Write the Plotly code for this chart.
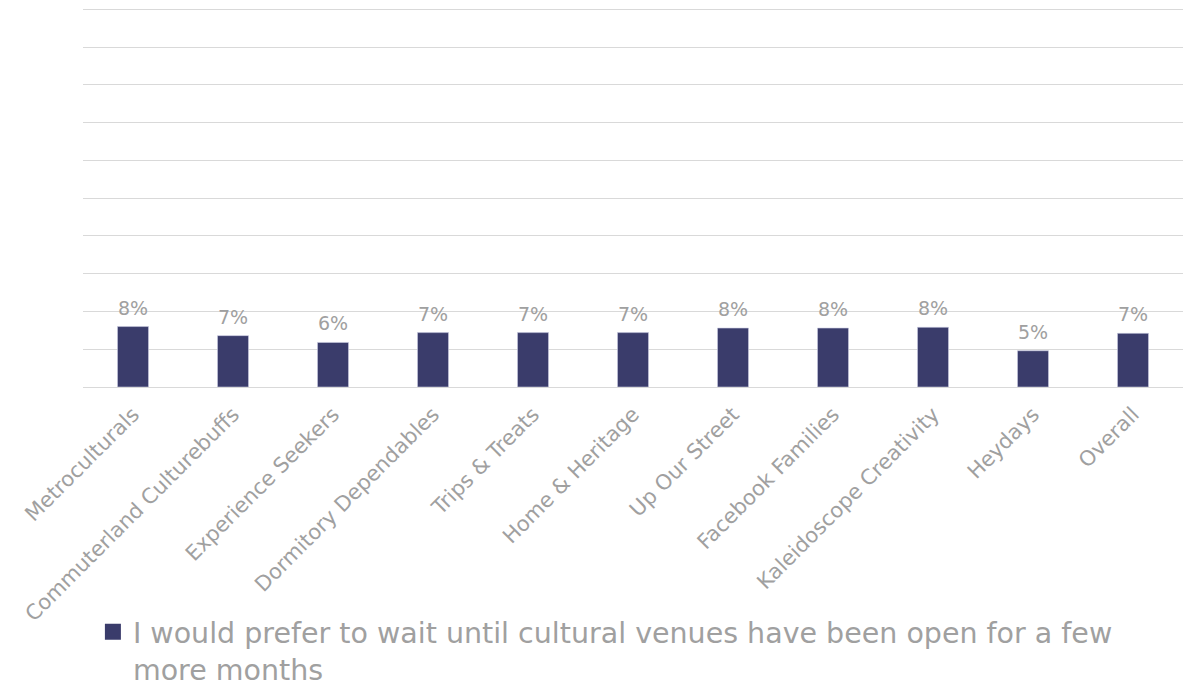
import plotly.graph_objects as go

categories = ["Metroculturals", "Commuterland Culturebuffs", "Experience Seekers",
              "Dormitory Dependables", "Trips & Treats", "Home & Heritage",
              "Up Our Street", "Facebook Families", "Kaleidoscope Creativity",
              "Heydays", "Overall"]
values = [0.080, 0.068, 0.059, 0.072, 0.072, 0.072, 0.078, 0.078, 0.079, 0.048, 0.071]
series_name = "I would prefer to wait until cultural venues have been open for a few<br>more months"

FONT = "DejaVu Sans"
GRAY = "#A0A0A0"
BAR = "#3A3C6B"

fig = go.Figure()
fig.add_trace(go.Bar(
    x=categories, y=values, name=series_name,
    marker=dict(color=BAR, line=dict(color="#C9CBE0", width=0.6)),
    showlegend=False, legendgroup="s",
))
# legend entry with a larger square swatch
fig.add_trace(go.Scatter(
    x=[None], y=[None], mode="markers", name=series_name, legendgroup="s",
    marker=dict(symbol="square", size=16, color=BAR), showlegend=True,
))
for c, v in zip(categories, values):
    fig.add_annotation(x=c, y=v, text=f"{round(v*100)}%", showarrow=False,
                       yanchor="bottom", yshift=6,
                       font=dict(family=FONT, size=19, color=GRAY))

fig.update_layout(
    width=1190, height=685,
    margin=dict(l=83, r=7, t=7, b=298, autoexpand=False),
    paper_bgcolor="white", plot_bgcolor="white",
    bargap=0.69,
    font=dict(family=FONT, color=GRAY),
    xaxis=dict(tickangle=-45, tickfont=dict(family=FONT, size=21, color=GRAY),
               showgrid=False, showline=False, ticks="", automargin=False,
               ticklabelstandoff=10),
    yaxis=dict(range=[0, 0.503], tickvals=[i * 0.05 for i in range(11)],
               showticklabels=False, automargin=False,
               showgrid=True, gridcolor="#D9D9D9", gridwidth=1,
               zeroline=True, zerolinecolor="#D9D9D9", zerolinewidth=1),
    legend=dict(x=0.009, y=-0.578, xanchor="left", yanchor="top",
                orientation="h", valign="top",
                font=dict(family=FONT, size=28.5, color=GRAY)),
)
fig.write_html("out.html", config={"displayModeBar": False},
               post_script="document.body.style.margin='0';document.body.style.padding='0';")
